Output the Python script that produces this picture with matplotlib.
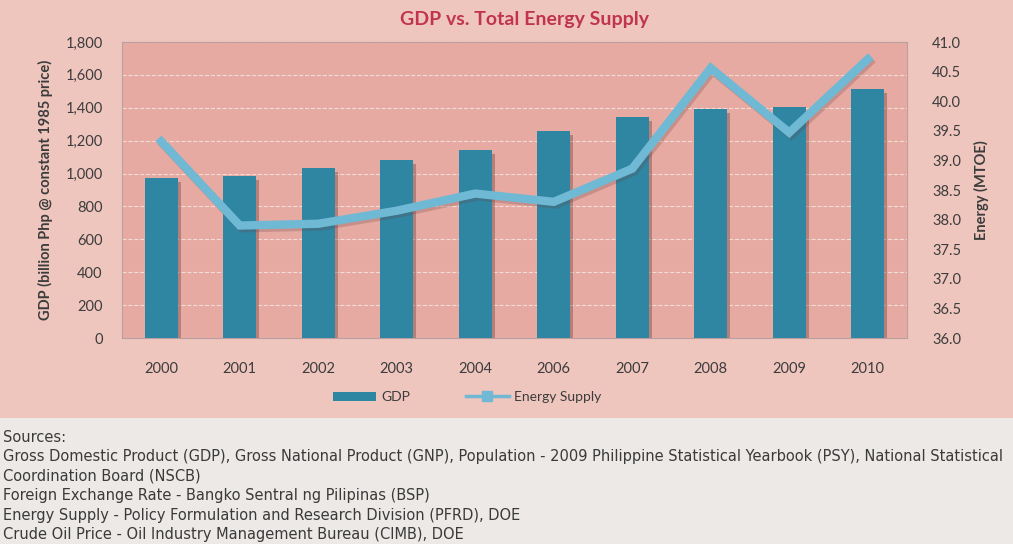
import numpy as np
import matplotlib
matplotlib.use('Agg')
import matplotlib.pyplot as plt
import matplotlib.patheffects as pe
from matplotlib.patches import Rectangle
from matplotlib.lines import Line2D
from matplotlib.ticker import FuncFormatter

# dados
anos = ['2000', '2001', '2002', '2003', '2004', '2006', '2007', '2008', '2009', '2010']
gdp = [973, 985, 1032, 1082, 1143, 1259, 1344, 1393, 1405, 1514]
energia = [39.32, 37.90, 37.93, 38.15, 38.44, 38.30, 38.86, 40.56, 39.47, 40.71]

fontes = [
    'Sources:',
    'Gross Domestic Product (GDP), Gross National Product (GNP), Population - 2009 Philippine Statistical Yearbook (PSY), National Statistical',
    'Coordination Board (NSCB)',
    'Foreign Exchange Rate - Bangko Sentral ng Pilipinas (BSP)',
    'Energy Supply - Policy Formulation and Research Division (PFRD), DOE',
    'Crude Oil Price - Oil Industry Management Bureau (CIMB), DOE',
]

plt.rcParams['font.family'] = ['Lato', 'DejaVu Sans']

cor_barra = '#2f86a2'
cor_linha = '#6fb9d4'
cor_texto = '#3c3c3c'

fig = plt.figure(figsize=(10.13, 5.44), dpi=100)
fig.patch.set_facecolor('#efc6be')
# faixa clara da pagina embaixo
fig.patches.append(Rectangle((0, 0), 1, 1 - 418 / 544, transform=fig.transFigure,
                             facecolor='#ece9e7', edgecolor='none', zorder=0))

ax = fig.add_axes([122 / 1013, 1 - 338 / 544, 785 / 1013, 296 / 544])
ax.set_facecolor('#e7aaa2')
x = np.arange(len(anos))

sombra = [pe.SimplePatchShadow(offset=(2, -3), shadow_rgbFace='#5a3030', alpha=0.35), pe.Normal()]
barras = ax.bar(x, gdp, width=0.42, color=cor_barra, zorder=3)
for b in barras:
    b.set_path_effects(sombra)

ax.set_ylim(0, 1800)
ax.set_xlim(-0.5, len(anos) - 0.5)
ax.set_yticks(np.arange(0, 1801, 200))
ax.yaxis.set_major_formatter(FuncFormatter(lambda v, p: '{:,.0f}'.format(v)))
ax.set_xticks(x)
ax.set_xticklabels(anos)
ax.grid(axis='y', color='#f1dcd8', linestyle='--', linewidth=0.8, zorder=1)
ax.set_axisbelow(True)
for s in ax.spines.values():
    s.set_color('#b8a0a0')
    s.set_linewidth(0.8)
ax.tick_params(axis='both', colors=cor_texto, labelsize=10.5, length=0)
ax.tick_params(axis='x', pad=17)
ax.tick_params(axis='y', pad=14)
ax.set_ylabel('GDP (billion Php @ constant 1985 price)', fontsize=10.5, fontweight='bold',
              color=cor_texto, labelpad=9)

ax2 = ax.twinx()
ax2.plot(x, energia, color=cor_linha, linewidth=6, solid_joinstyle='miter', zorder=4,
         path_effects=[pe.SimpleLineShadow(offset=(1.5, -2), shadow_color='#6a4040', alpha=0.25), pe.Normal()])
ax2.set_ylim(36, 41)
ax2.set_yticks(np.arange(36, 41.01, 0.5))
ax2.yaxis.set_major_formatter(FuncFormatter(lambda v, p: '{:.1f}'.format(v)))
ax2.tick_params(axis='y', colors=cor_texto, labelsize=10.5, length=0, pad=18)
for s in ax2.spines.values():
    s.set_visible(False)
ax2.set_ylabel('Energy (MTOE)', fontsize=10.5, fontweight='bold', color=cor_texto, labelpad=9)

fig.text(524 / 1013, 1 - 19 / 544, 'GDP vs. Total Energy Supply', ha='center', va='center',
         fontsize=14, fontweight='bold', color='#c0344c')

handles = [Rectangle((0, 0), 1, 1, facecolor=cor_barra, edgecolor='none'),
           Line2D([], [], color=cor_linha, linewidth=2.5, marker='s', markersize=7)]
fig.legend(handles, ['GDP', 'Energy Supply'], loc='center', bbox_to_anchor=(467 / 1013, 1 - 397 / 544),
           ncol=2, frameon=False, fontsize=10, labelcolor=cor_texto, handlelength=3.1, handleheight=0.6,
           columnspacing=4.0, handletextpad=0.4)

y0 = 437
for i, linha in enumerate(fontes):
    fig.text(3 / 1013, 1 - (y0 + i * 19.6) / 544, linha, ha='left', va='center',
             fontsize=10.5, color='#3a3a3a', family=['Liberation Sans Narrow', 'DejaVu Sans'])

fig.savefig('out.png', dpi=100, facecolor=fig.get_facecolor())
